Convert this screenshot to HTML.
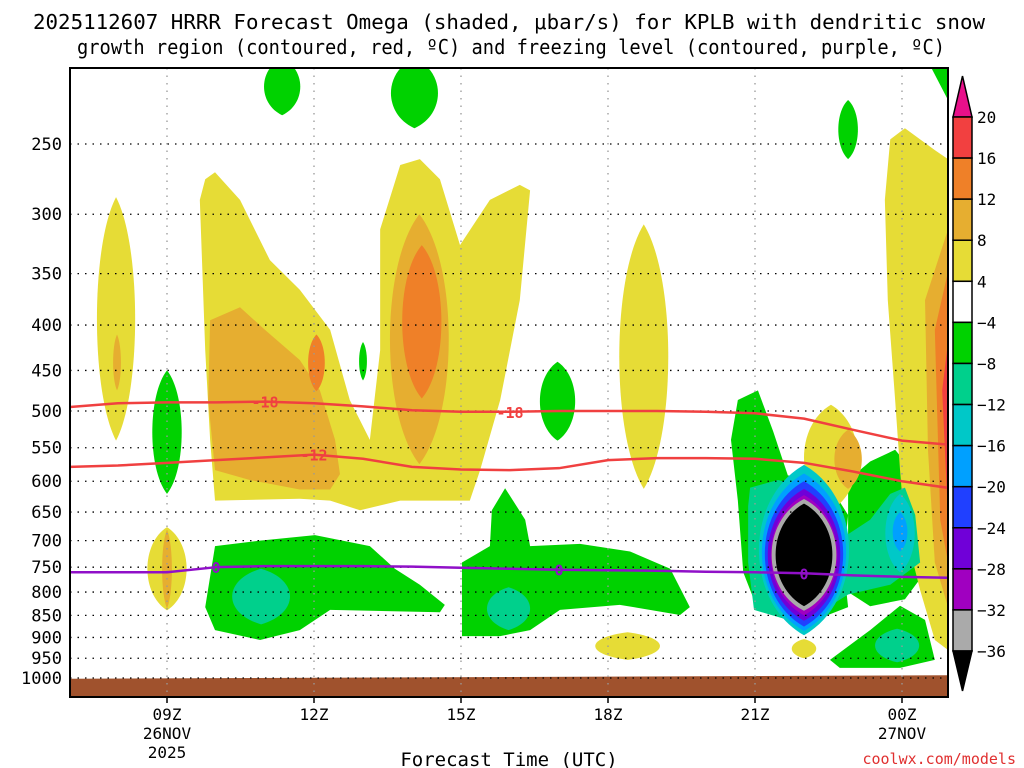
<!DOCTYPE html>
<html><head><meta charset="utf-8"><style>
body{margin:0;background:#fff;}
svg{display:block;font-family:"DejaVu Sans Mono","Liberation Mono",monospace;}
</style></head><body>
<svg id="chart" width="1024" height="768" xmlns="http://www.w3.org/2000/svg">
<text x="33" y="29" font-size="20" textLength="952" lengthAdjust="spacingAndGlyphs">2025112607 HRRR Forecast Omega (shaded, μbar/s) for KPLB with dendritic snow</text>
<text x="77" y="54" font-size="20" textLength="868" lengthAdjust="spacingAndGlyphs">growth region (contoured, red, ºC) and freezing level (contoured, purple, ºC)</text>
<defs><clipPath id="plotclip"><rect x="70" y="68" width="878" height="629"/></clipPath></defs>
<g id="shades" clip-path="url(#plotclip)"></g>
<g id="grid"></g>
<g id="lines" clip-path="url(#plotclip)"></g>
<rect x="70" y="68" width="878" height="629" fill="none" stroke="#000" stroke-width="2"/>
<g id="yaxis"></g>
<g id="xaxis"></g>
<text x="509" y="766" font-size="19" text-anchor="middle">Forecast Time (UTC)</text>
<text x="1016" y="764" font-size="15" fill="#e03030" text-anchor="end">coolwx.com/models</text>
<g id="cbar"></g>
</svg>
<script>
const NS="http://www.w3.org/2000/svg";
const xScale=t=>167+49*t;                 // t = hours since 09Z 26NOV
const yScale=p=>144+385.2*Math.log(p/250);
const pressureTicks=[250,300,350,400,450,500,550,600,650,700,750,800,850,900,950,1000];
const timeTickHours=[0,3,6,9,12,15];
const timeTickLabels=["09Z","12Z","15Z","18Z","21Z","00Z"];
const timeTickSub1=["26NOV","","","","","27NOV"];
const timeTickSub2=["2025","","","","",""];
// contour line data (hourly, t = -2..16)
const lineHours=[-2,-1,0,1,2,3,4,5,6,7,8,9,10,11,12,13,14,15,16];
const freezingLevel=[760,760,760,750,748,748,748,749,751,753,755,756,757,759,760,762,766,769,771];
const isoMinus18=[495,490,489,489,488,490,494,499,501,501,500,500,500,501,503,510,525,540,546];
const isoMinus12=[578,576,572,568,564,560,566,578,582,583,580,568,565,565,566,572,585,600,611];
// polygon omega regions: level + outline as [hour, hPa]
const polyLevel=[4,8,-4,-4,-4,-8,-4,4,8,12,16];
const polyPts=[
 [[.78,274],[.98,269],[1.49,289],[2.1,338],[2.71,365],[3.33,405],[3.73,486],[4.14,539],[4.35,427],[4.35,312],[4.76,264],[5.16,260],[5.57,274],[5.98,325],[6.59,289],[7.2,278],[7.41,282],[7.2,375],[6.8,486],[6.39,583],[6.18,631],[4.76,631],[3.94,647],[3.33,631],[2.71,628],[.98,631],[.88,539],[.78,427],[.67,289]],
 [[.88,395],[1.49,382],[2.0,405],[2.71,438],[3.12,474],[3.43,539],[3.53,589],[3.33,613],[2.71,613],[1.69,598],[.98,583],[.84,486]],
 [[.98,710],[1.9,700],[3.02,690],[4.14,710],[4.65,753],[5.16,785],[5.67,827],[5.57,843],[3.33,838],[2.71,883],[1.9,906],[.98,883],[.78,832]],
 [[6.02,741],[6.59,710],[6.63,647],[6.9,611],[7.31,663],[7.41,710],[8.43,706],[9.45,720],[10.27,753],[10.67,832],[10.47,849],[9.24,827],[8.02,838],[7.41,883],[6.8,897],[6.02,897]],
 [[11.65,486],[12.06,474],[12.37,527],[12.67,591],[13.49,603],[13.9,655],[13.8,741],[13.9,832],[13.49,849],[12.67,860],[12.06,838],[11.76,760],[11.65,631],[11.51,539]],
 [[11.9,610],[12.47,598],[13.08,610],[13.6,663],[13.7,700],[14.35,663],[14.76,620],[15.06,610],[15.27,655],[15.37,741],[14.76,785],[13.9,805],[13.49,832],[12.67,860],[11.98,838],[11.86,741],[11.86,640]],
 [[13.9,598],[14.35,570],[14.86,553],[15.2,583],[15.37,650],[15.47,760],[15.06,815],[14.35,830],[13.9,800]],
 [[14.76,247],[15.06,240],[15.67,254],[15.94,260],[15.94,930],[15.67,906],[15.37,796],[15.06,681],[14.96,583],[14.86,486],[14.71,375],[14.65,289]],
 [[15.47,375],[15.94,312],[15.94,832],[15.67,741],[15.53,553]],
 [[15.67,405],[15.94,348],[15.94,741],[15.78,663]],
 [[15.82,474],[15.94,417],[15.94,663]]
];
const bottomGreenPts=[[14.96,829],[15.47,860],[15.67,954],[14.96,974],[13.73,974],[13.53,954],[14.35,883]];
// lens-shaped omega regions: center hour, half-width hours, top hPa, bottom hPa, level
const lensT=[-1.04,0,9.73,13.55,9.4,13.0, 5.15,13.9,-1.02,0, 5.2,3.05, 0,2.35,5.05,4.0,7.97,13.9, 1.92,6.97,14.9,14.96, 14.96, 13.0,13.0,13.0,13.0,13.0,13.0];
const lensHW=[.39,.4,.5,.55,.66,.25, .6,.28,.08,.1, .4,.17, .3,.37,.48,.08,.36,.2, .59,.44,.45,.3, .15, .92,.86,.8,.74,.68,.62];
const lensTop=[287,676,308,492,888,904, 300,525,410,680, 325,410, 450,200,200,418,440,223, 753,790,880,620, 650, 575,588,600,612,622,632];
const lensBot=[540,839,612,647,954,950, 574,612,474,835, 484,475, 620,232,240,462,540,260, 870,883,960,760, 720, 895,885,875,862,850,835];
const lensLevel=[4,4,4,4,4,4, 8,8,8,8, 12,12, -4,-4,-4,-4,-4,-4, -8,-8,-8,-12, -16, -12,-16,-20,-24,-28,-32];
// colorbar
const cbarLabels=["20","16","12","8","4","-4","-8","-12","-16","-20","-24","-28","-32","-36"];
const levelColors={"4":"#e6dc36","8":"#e6ae30","12":"#ef8028","16":"#f24040","-4":"#00d200","-8":"#00d08c","-12":"#00c8c8","-16":"#00a0ff","-20":"#2040ff","-24":"#7000d8","-28":"#a000c0","-32":"#aaaaaa","-36":"#000000"};
const cbarColors=["#f24040","#ef8028","#e6ae30","#e6dc36","#ffffff","#00d200","#00d08c","#00c8c8","#00a0ff","#2040ff","#7000d8","#a000c0","#aaaaaa"];

function mk(tag,attrs,parent){const e=document.createElementNS(NS,tag);for(const k in attrs)e.setAttribute(k,attrs[k]);parent.appendChild(e);return e;}
const shades=document.getElementById('shades');
const items=[];
polyPts.forEach((pts,i)=>items.push({lv:polyLevel[i],ord:0,d:'M'+pts.map(q=>xScale(q[0])+','+yScale(q[1])).join(' L')+'Z'}));
items.push({lv:-4,ord:0,d:'M'+bottomGreenPts.map(q=>xScale(q[0])+','+yScale(q[1])).join(' L')+'Z'});
items.push({lv:-4,ord:0,d:`M${xScale(15.6)},68 L948,68 L948,100Z`});
lensT.forEach((t,i)=>{
  const cx=xScale(t),a=49*lensHW[i]/0.75,y1=yScale(lensTop[i]),y2=yScale(lensBot[i]),h=y2-y1;
  const d=`M${cx},${y1} C${cx+a},${y1+h*0.2} ${cx+a},${y2-h*0.2} ${cx},${y2} C${cx-a},${y2-h*0.2} ${cx-a},${y1+h*0.2} ${cx},${y1}Z`;
  items.push({lv:lensLevel[i],ord:1,d:d});
});
items.sort((a,b)=>Math.abs(a.lv)-Math.abs(b.lv)||a.ord-b.ord);
items.forEach(it=>{
  const e=mk('path',{d:it.d,fill:it.lv===-32?"#000":levelColors[String(it.lv)]},shades);
  
  
  if(it.lv===-32){e.setAttribute('stroke','#aaaaaa');e.setAttribute('stroke-width','4');}
});
const g=mk('polygon',{points:`70,${yScale(1002)} 948,${yScale(993)} 948,697 70,697`,fill:"#a0522d"},shades);


// grid
const grid=document.getElementById('grid');
pressureTicks.forEach(p=>{const l=mk('line',{x1:70,x2:948,y1:yScale(p),y2:yScale(p),stroke:"#000","stroke-width":1.3,"stroke-dasharray":"1.5 6"},grid);

});
timeTickHours.forEach(t=>{const l=mk('line',{x1:xScale(t),x2:xScale(t),y1:68,y2:697,stroke:"#999","stroke-width":1.3,"stroke-dasharray":"1.5 6"},grid);

});
// lines
const lines=document.getElementById('lines');
function drawLine(vals,color,name){const pts=lineHours.map((t,i)=>xScale(t)+','+yScale(vals[i])).join(' ');
 const l=mk('polyline',{points:pts,fill:"none",stroke:color,"stroke-width":2.5,"stroke-linejoin":"round"},lines);
 
 }
drawLine(isoMinus18,"#f04040","isotherm-minus18");
drawLine(isoMinus12,"#f04040","isotherm-minus12");
drawLine(freezingLevel,"#9010c8","freezing-level");
function lbl(t,vals,txt,color){const i=lineHours.indexOf(Math.round(t));const y=yScale(vals[i]);
 const e=mk('text',{x:xScale(t),y:y+6,"font-size":15,"font-weight":"bold",fill:color,"text-anchor":"middle"},lines);e.textContent=txt;
 
 }
lbl(2,isoMinus18,"-18","#f04040");lbl(7,isoMinus18,"-18","#f04040");lbl(3,isoMinus12,"-12","#f04040");
lbl(1,freezingLevel,"0","#9010c8");lbl(8,freezingLevel,"0","#9010c8");lbl(13,freezingLevel,"0","#9010c8");
// y axis
const ya=document.getElementById('yaxis');
pressureTicks.forEach(p=>{const e=mk('text',{x:62,y:yScale(p)+6,"font-size":17,"text-anchor":"end"},ya);e.textContent=p;
 
 });
// x axis
const xa=document.getElementById('xaxis');
timeTickHours.forEach((t,i)=>{
 mk('line',{x1:xScale(t),x2:xScale(t),y1:697,y2:703,stroke:"#000","stroke-width":1.5},xa);
 [[timeTickLabels[i],720],[timeTickSub1[i],739],[timeTickSub2[i],758]].forEach(([s,y])=>{if(!s)return;
  const e=mk('text',{x:xScale(t),y:y,"font-size":16,"text-anchor":"middle"},xa);e.textContent=s;
  
  });
});
// colorbar
const cb=document.getElementById('cbar');
const cbX=953,cbW=19,cbTop=117,cbStep=(651-117)/13;
mk('polygon',{points:`${cbX},${cbTop} ${cbX+cbW},${cbTop} ${cbX+cbW/2},76`,fill:"#e8108a",stroke:"#000","stroke-width":1.5},cb);
cbarColors.forEach((c,i)=>{const r=mk('rect',{x:cbX,y:cbTop+i*cbStep,width:cbW,height:cbStep,fill:c,stroke:"#000","stroke-width":1.5},cb);
 
 });
mk('polygon',{points:`${cbX},651 ${cbX+cbW},651 ${cbX+cbW/2},691`,fill:"#000",stroke:"#000","stroke-width":1.5},cb);
cbarLabels.forEach((s,i)=>{const e=mk('text',{x:977,y:cbTop+i*cbStep+6,"font-size":16},cb);e.textContent=s.replace('-','−');
 
 });
</script>
</body></html>
